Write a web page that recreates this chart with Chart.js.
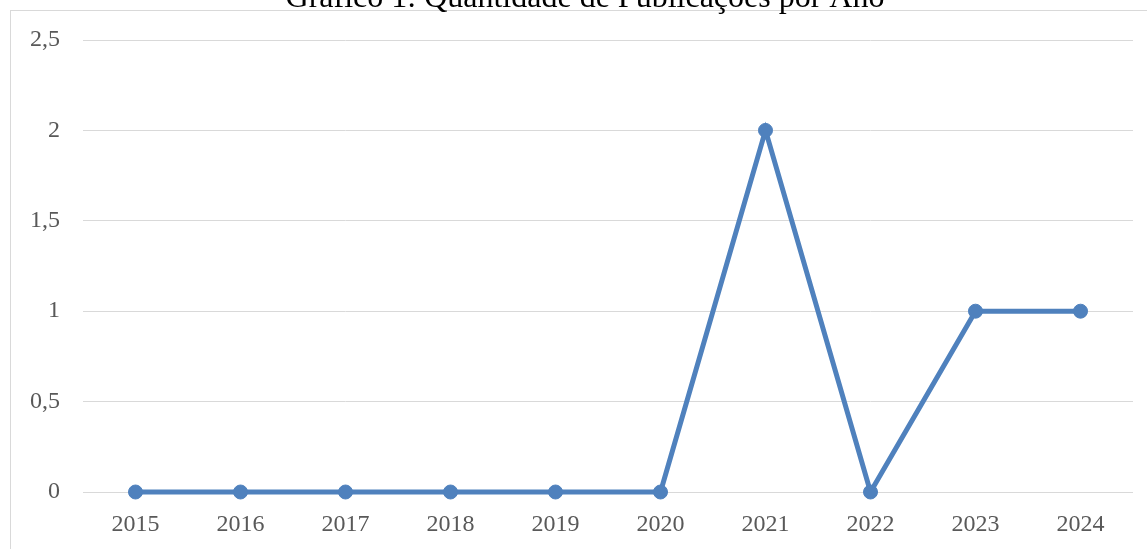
<!DOCTYPE html>
<html>
<head>
<meta charset="utf-8">
<script src="https://cdn.jsdelivr.net/npm/chart.js@4"></script>
<style>
  html, body { margin: 0; padding: 0; background: #fff; overflow: hidden; }
  #frame { position: absolute; left: 10px; top: 10px; width: 1300px; height: 700px; border: 1px solid #d9d9d9; }
  #wrap { position: absolute; left: 0; top: 0; width: 1147px; height: 549px; }
</style>
</head>
<body>
<div id="frame"></div>
<div id="wrap"><canvas id="pubChart"></canvas></div>
<script>
// Dados do gráfico
const titulo = 'Gráfico 1: Quantidade de Publicações por Ano';
const anos = ['2015', '2016', '2017', '2018', '2019', '2020', '2021', '2022', '2023', '2024'];
const publicacoes = [0, 0, 0, 0, 0, 0, 2, 0, 1, 1];
const rotulosY = ['0', '0,5', '1', '1,5', '2', '2,5'];

// título cortado no topo, como na imagem original
const tituloPlugin = {
    id: 'tituloCortado',
    afterDraw(chart) {
        const c = chart.ctx;
        c.save();
        c.font = '32px "Liberation Serif"';
        c.fillStyle = '#000';
        c.textAlign = 'center';
        c.textBaseline = 'alphabetic';
        c.fillText(titulo, 585, 7);
        c.restore();
    }
};

const ctx = document.getElementById('pubChart').getContext('2d');
const pubChart = new Chart(ctx, {
    type: 'line',
    data: {
        labels: anos,
        datasets: [{
            label: 'Publicações',
            data: publicacoes,
            borderColor: '#4F81BD',
            backgroundColor: '#4F81BD',
            borderWidth: 5,
            pointRadius: 7,
            pointBorderWidth: 1,
            tension: 0,
            clip: false
        }]
    },
    options: {
        responsive: true,
        maintainAspectRatio: false,
        animation: false,
        layout: { padding: { left: 0, right: 14, top: 40, bottom: 0 } },
        plugins: {
            legend: { display: false },
            tooltip: { enabled: false },
            title: { display: false }
        },
        scales: {
            x: {
                offset: true,
                grid: { display: false },
                border: { display: false },
                afterFit: (scale) => { scale.height = 57; },
                ticks: {
                    color: '#595959',
                    padding: 10,
                    font: { family: 'Liberation Serif', size: 24 }
                }
            },
            y: {
                min: 0,
                max: 2.5,
                grid: { color: '#d9d9d9', lineWidth: 1, drawTicks: false },
                border: { display: false },
                afterFit: (scale) => { scale.width = 83; },
                ticks: {
                    stepSize: 0.5,
                    color: '#595959',
                    padding: 23,
                    font: { family: 'Liberation Serif', size: 24 },
                    callback: (value, i) => rotulosY[i]
                }
            }
        }
    },
    plugins: [tituloPlugin]
});
</script>
</body>
</html>
